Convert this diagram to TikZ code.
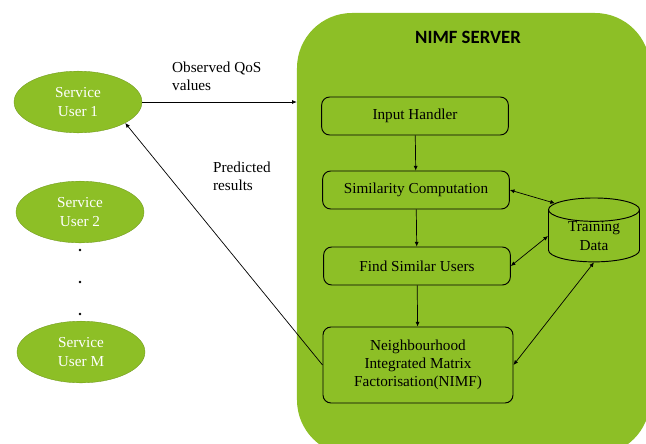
\documentclass[tikz,border=0pt]{standalone}
\usepackage{fontspec}
\setmainfont{Liberation Serif}
\newfontfamily\titlefont{Carlito}
\usepackage{tikz}
\usetikzlibrary{arrows.meta, positioning, calc, shapes.geometric}
\definecolor{leaf}{RGB}{141,191,38}

\begin{document}
\begin{tikzpicture}[x=0.03cm, y=-0.03cm,
    txt/.style={font=\fontsize{13}{15.5}\selectfont, align=center},
    user/.style={ellipse, fill=leaf, draw=leaf!80!black, line width=0.3pt, minimum width=3.84cm, minimum height=1.85cm, inner sep=0pt, text=white, txt},
    stage/.style={rectangle, rounded corners=0.24cm, draw, thick, fill=leaf, minimum width=5.6cm, minimum height=1.14cm, txt},
    link/.style={-{Latex[length=4pt,width=3.5pt]}, line width=0.6pt},
    dlink/.style={{Latex[length=4pt,width=3.5pt]}-{Latex[length=4pt,width=3.5pt]}, line width=0.6pt}]
    \useasboundingbox (0,0) rectangle (646,443);
    \node[rectangle, rounded corners=1.65cm, fill=leaf, minimum width=10.59cm, minimum height=13.26cm] (server) at (473.5,234) {};
    \node[font=\titlefont\fontsize{16}{18}\selectfont\bfseries] (title) at (468,37) {NIMF SERVER};

    \node[user] (user1) at (78,102) {Service\\User 1};
    \node[user] (user2) at (80,212) {Service\\User 2};
    \node[user] (userM) at (81,352) {Service\\User M};
    \foreach \y [count=\i] in {250,282,314}
        \node[circle, fill=black, inner sep=0pt, minimum size=2.5pt] (dot\i) at (80,\y) {};

    \node[stage] (input) at (415,116) {Input Handler};
    \node[stage] (sim) at (416,190) {Similarity Computation};
    \node[stage] (find) at (417,266) {Find Similar Users};
    \node[stage, minimum width=5.7cm, minimum height=2.28cm] (nimf) at (418,365) {Neighbourhood\\Integrated Matrix\\Factorisation(NIMF)};
    \node[cylinder, shape border rotate=90, shape aspect=0.45, draw, thick, fill=leaf, inner sep=0pt, minimum width=2.73cm, minimum height=1.75cm, txt] (train) at (594,236) {Training\\Data};

    \draw[link] (user1.east) -- (user1.east -| server.west);
    \node[txt, align=left, anchor=north west] (obs) at (168,58) {Observed QoS\\values};
    \draw[link] (nimf.west) -- (user1.-24);
    \node[txt, align=left, anchor=north west] (pred) at (209,158) {Predicted\\results};

    \draw[link] (input) -- (sim);
    \draw[link] (sim) -- (find);
    \draw[link] (find) -- (nimf);
    \draw[dlink] (sim.east) -- (train.140);
    \draw[dlink] (find.east) -- (train.west);
    \draw[dlink] (nimf.east) -- (train.south);
\end{tikzpicture}
\end{document}
